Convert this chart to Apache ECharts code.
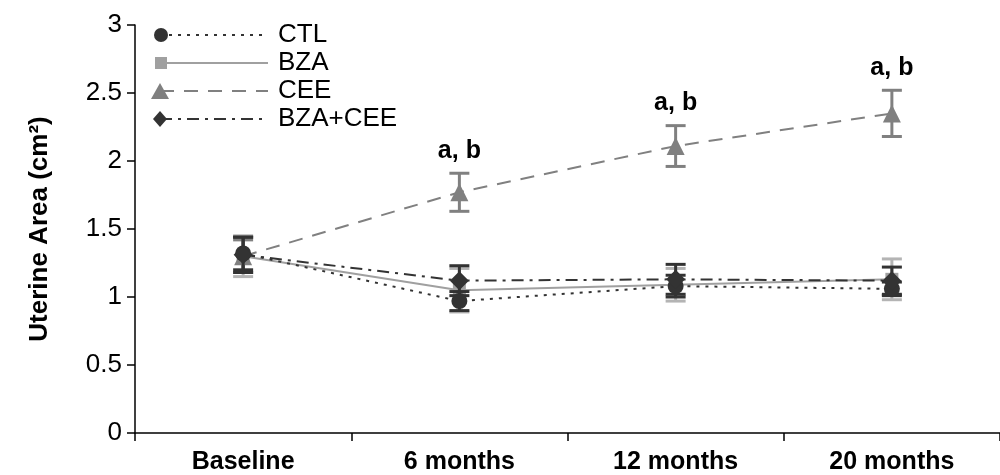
<!DOCTYPE html>
<html>
<head>
<meta charset="utf-8">
<script src="https://cdn.jsdelivr.net/npm/echarts@6/dist/echarts.min.js"></script>
<style>html,body{margin:0;padding:0;background:#fff}#c{width:1000px;height:475px}</style>
</head>
<body>
<div id="c"></div>
<script>
var categories = ['Baseline', '6 months', '12 months', '20 months'];
var seriesNames = ['CTL', 'BZA', 'CEE', 'BZA+CEE'];
var ctl = [1.32, 0.97, 1.08, 1.06];
var ctlErr = [0.12, 0.07, 0.08, 0.05];
var bza = [1.30, 1.05, 1.09, 1.13];
var bzaErr = [0.15, 0.16, 0.12, 0.15];
var cee = [1.30, 1.77, 2.11, 2.35];
var ceeErr = [0.12, 0.14, 0.15, 0.17];
var bzaCee = [1.31, 1.12, 1.13, 1.12];
var bzaCeeErr = [0.13, 0.11, 0.11, 0.10];
var annotations = ['', 'a, b', 'a, b', 'a, b'];
var yTicks = [0, 0.5, 1, 1.5, 2, 2.5, 3];

var styles = [
  {color: '#333333', dash: [3, 6], symbol: 'circle', size: 16, errColor: '#333333', z: 5},
  {color: '#a0a0a0', dash: 'solid', symbol: 'rect', size: 13, errColor: '#b4b4b4', z: 3},
  {color: '#808080', dash: [14, 10], symbol: 'triangle', size: 18, errColor: '#808080', z: 4},
  {color: '#333333', dash: [12, 6, 3, 6], symbol: 'diamond', size: 19, errColor: '#333333', z: 6}
];
var values = [ctl, bza, cee, bzaCee];
var errs = [ctlErr, bzaErr, ceeErr, bzaCeeErr];

var series = [];
values.forEach(function (vals, si) {
  var st = styles[si];
  var errData = vals.map(function (v, i) { return [i, v, errs[si][i]]; });
  series.push({
    type: 'custom',
    name: seriesNames[si] + ' err',
    z: st.z,
    silent: true,
    data: errData,
    renderItem: function (params, api) {
      var i = api.value(0), v = api.value(1), e = api.value(2);
      var top = api.coord([i, v + e]);
      var bot = api.coord([i, v - e]);
      var hw = 10;
      var children = [
        {type: 'line', shape: {x1: top[0], y1: top[1], x2: bot[0], y2: bot[1]}, style: {stroke: st.errColor, lineWidth: 3}},
        {type: 'line', shape: {x1: top[0] - hw, y1: top[1], x2: top[0] + hw, y2: top[1]}, style: {stroke: st.errColor, lineWidth: 3}},
        {type: 'line', shape: {x1: bot[0] - hw, y1: bot[1], x2: bot[0] + hw, y2: bot[1]}, style: {stroke: st.errColor, lineWidth: 3}}
      ];
      if (si === 2 && annotations[params.dataIndex]) {
        children.push({type: 'text', x: top[0], y: top[1] - 10,
          style: {text: annotations[params.dataIndex], fill: '#000', font: 'bold 25px "Liberation Sans", Arial, sans-serif', align: 'center', verticalAlign: 'bottom'}});
      }
      return {type: 'group', children: children};
    }
  });
  series.push({
    type: 'line',
    name: seriesNames[si],
    z: st.z + 1,
    data: vals,
    symbol: st.symbol,
    symbolSize: st.size,
    showAllSymbol: true,
    itemStyle: {color: st.color},
    lineStyle: {color: st.color, width: 2, type: st.dash},
    silent: true
  });
});

// legend drawn with graphic elements (marker at left end, like the original)
var legendGraphic = [];
var legendTop = 35, legendGap = 28;
seriesNames.forEach(function (nm, si) {
  var st = styles[si];
  var y = legendTop + si * legendGap;
  legendGraphic.push({type: 'line', shape: {x1: 160, y1: y, x2: 268, y2: y},
    style: {stroke: st.color, lineWidth: 2, lineDash: st.dash === 'solid' ? null : st.dash}});
  var sym;
  if (st.symbol === 'circle') sym = {type: 'circle', shape: {cx: 161, cy: y, r: 7}, style: {fill: st.color}};
  else if (st.symbol === 'rect') sym = {type: 'rect', shape: {x: 155, y: y - 6, width: 12, height: 12}, style: {fill: st.color}};
  else if (st.symbol === 'triangle') sym = {type: 'polygon', shape: {points: [[160, y - 8], [151, y + 8], [169, y + 8]]}, style: {fill: st.color}};
  else sym = {type: 'polygon', shape: {points: [[160, y - 8], [167, y], [160, y + 8], [153, y]]}, style: {fill: st.color}};
  legendGraphic.push(sym);
  legendGraphic.push({type: 'text', x: 278, y: y, style: {text: nm, fill: '#000', font: '26px "Liberation Sans", Arial, sans-serif', verticalAlign: 'middle'}});
});

var chart = echarts.init(document.getElementById('c'), null, {renderer: 'canvas'});
chart.setOption({
  animation: false,
  backgroundColor: '#fff',
  grid: {left: 135, right: 0, top: 25, bottom: 40, containLabel: false},
  xAxis: {
    type: 'category',
    data: categories,
    boundaryGap: true,
    axisLine: {lineStyle: {color: '#000', width: 1.5}},
    axisTick: {show: true, length: 8, lineStyle: {color: '#000', width: 1.5}},
    axisLabel: {color: '#000', fontWeight: 'bold', fontSize: 25, fontFamily: '"Liberation Sans", Arial, sans-serif', margin: 17}
  },
  yAxis: {
    type: 'value',
    min: 0, max: 3, interval: 0.5,
    name: 'Uterine Area (cm²)',
    nameLocation: 'middle',
    nameGap: 82,
    nameTextStyle: {color: '#000', fontWeight: 'bold', fontSize: 26, fontFamily: '"Liberation Sans", Arial, sans-serif'},
    axisLine: {show: true, lineStyle: {color: '#000', width: 1.5}},
    axisTick: {show: true, length: 8, lineStyle: {color: '#000', width: 1.5}},
    splitLine: {show: false},
    axisLabel: {color: '#000', fontSize: 26, fontFamily: '"Liberation Sans", Arial, sans-serif', margin: 13,
      formatter: function (v) { return yTicks.indexOf(v) >= 0 ? String(v) : ''; }}
  },
  graphic: legendGraphic,
  series: series
});
</script>
</body>
</html>
